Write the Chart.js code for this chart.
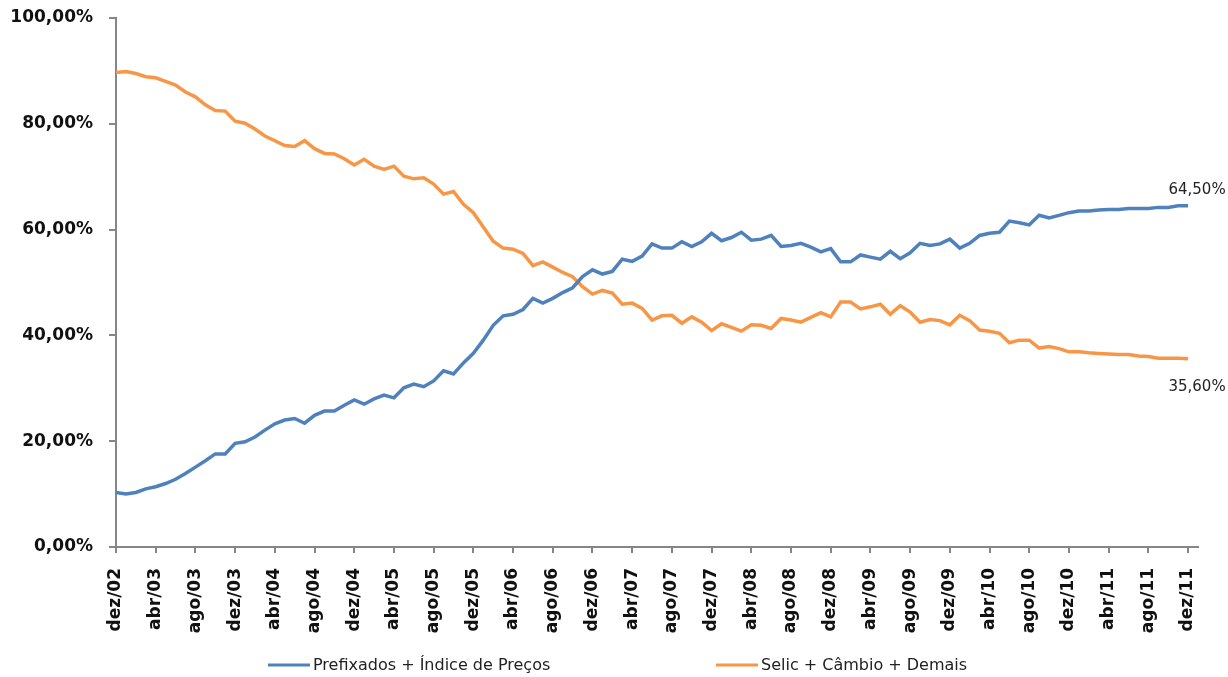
<!DOCTYPE html>
<html>
<head>
<meta charset="utf-8">
<script src="https://cdn.jsdelivr.net/npm/chart.js@4.4.1/dist/chart.umd.min.js"></script>
<style>
html,body{margin:0;padding:0;background:#fff;}
#wrap{width:1228px;height:677px;position:relative;}
</style>
</head>
<body>
<div id="wrap"><canvas id="c"></canvas></div>
<script>
const tickLabels = ["dez/02","abr/03","ago/03","dez/03","abr/04","ago/04","dez/04","abr/05","ago/05","dez/05","abr/06","ago/06","dez/06","abr/07","ago/07","dez/07","abr/08","ago/08","dez/08","abr/09","ago/09","dez/09","abr/10","ago/10","dez/10","abr/11","ago/11","dez/11"];

const seriesNames = ["Prefixados + Índice de Preços", "Selic + Câmbio + Demais"];

const prefixados = [10.3,10.0,10.3,11.0,11.4,12.0,12.8,13.9,15.1,16.3,17.6,17.6,19.6,19.9,20.8,22.1,23.3,24.0,24.3,23.4,24.9,25.7,25.7,26.8,27.8,27.0,28.0,28.7,28.2,30.1,30.8,30.3,31.4,33.3,32.7,34.8,36.6,39.1,41.9,43.7,44.0,
44.9,47.0,46.1,47.0,48.1,49.0,51.1,52.4,51.6,52.1,54.4,54.0,55.0,57.3,56.5,56.5,57.7,56.8,57.7,59.3,57.9,58.5,59.5,58.0,58.2,58.9,56.8,57.0,57.4,56.7,55.8,56.4,
53.9,53.9,55.2,54.8,54.4,55.9,54.5,55.6,57.4,57.0,57.3,58.2,56.5,57.4,58.9,59.3,59.5,61.6,61.3,60.9,62.7,62.2,62.7,63.2,63.5,63.5,63.7,63.8,63.8,64.0,64.0,64.0,64.2,64.2,64.5,64.5];

const selic = [89.7,89.9,89.5,88.9,88.7,88.0,87.3,86.0,85.1,83.6,82.5,82.4,80.5,80.1,79.0,77.7,76.8,75.9,75.7,76.8,75.3,74.4,74.3,73.4,72.2,73.3,72.0,71.4,72.0,70.1,69.6,69.8,68.6,66.7,67.2,64.8,63.2,60.5,57.8,56.5,56.3,
55.5,53.2,53.9,52.9,51.9,51.1,49.2,47.8,48.5,48.0,45.9,46.1,45.1,42.9,43.7,43.8,42.3,43.5,42.5,40.9,42.2,41.5,40.8,42.0,41.9,41.3,43.2,42.9,42.5,43.4,44.3,43.5,
46.3,46.3,45.0,45.4,45.9,44.0,45.6,44.4,42.5,43.0,42.8,42.0,43.8,42.8,41.0,40.8,40.4,38.6,39.1,39.1,37.6,37.9,37.5,36.9,36.9,36.7,36.6,36.5,36.4,36.4,36.1,36.0,35.7,35.7,35.7,35.6];

const endLabels = ["64,50%", "35,60%"];
const yTicks = [0,20,40,60,80,100];

const toXY = arr => arr.map((v,i)=>({x:i,y:v}));
const AXIS = '#868686';
const BLUE = '#4F81BD';
const ORANGE = '#F79646';

const endLabelPlugin = {
  id:'endLabels',
  afterDatasetsDraw(chart){
    const ctx = chart.ctx;
    ctx.save();
    ctx.font = '15px "DejaVu Sans"';
    ctx.fillStyle = '#222';
    ctx.textAlign = 'center';
    ctx.textBaseline = 'middle';
    chart.data.datasets.forEach((ds,di)=>{
      const meta = chart.getDatasetMeta(di);
      const pt = meta.data[meta.data.length-1];
      const dy = di===0 ? -16 : 28;
      ctx.fillText(endLabels[di], pt.x+9, pt.y+dy);
    });
    ctx.restore();
  }
};

const legendPlugin = {
  id:'customLegend',
  afterDraw(chart){
    const ctx = chart.ctx;
    ctx.save();
    ctx.font = '16px "DejaVu Sans"';
    ctx.textBaseline = 'middle';
    const y = chart.height - 12;
    const lineW = 42, gap = 3;
    const starts = [268, 716];
    chart.data.datasets.forEach((d,i)=>{
      const x = starts[i];
      ctx.strokeStyle = d.borderColor;
      ctx.lineWidth = 3;
      ctx.beginPath();
      ctx.moveTo(x, y);
      ctx.lineTo(x+lineW, y);
      ctx.stroke();
      ctx.fillStyle = '#222';
      ctx.fillText(d.label, x+lineW+gap, y+1);
    });
    ctx.restore();
  }
};

new Chart(document.getElementById('c'), {
  type:'line',
  data:{
    datasets:[
      {label:seriesNames[0], data:toXY(prefixados), borderColor:BLUE, backgroundColor:BLUE, borderWidth:3.5, pointRadius:0, tension:0, fill:false},
      {label:seriesNames[1], data:toXY(selic), borderColor:ORANGE, backgroundColor:ORANGE, borderWidth:3.5, pointRadius:0, tension:0, fill:false}
    ]
  },
  options:{
    responsive:true,
    maintainAspectRatio:false,
    animation:false,
    layout:{padding:{top:18,right:30,bottom:30,left:0}},
    plugins:{legend:{display:false}, tooltip:{enabled:false}},
    scales:{
      x:{
        type:'linear',
        min:0, max:109,
        afterFit(s){ s.height = 100; s.paddingLeft = 0; s.paddingRight = 0; },
        afterBuildTicks(s){
          s.ticks = tickLabels.map((t,i)=>({value:i*4}));
        },
        ticks:{
          autoSkip:false,
          maxRotation:90, minRotation:90,
          padding:15,
          color:'#111',
          font:{family:'"DejaVu Sans"', size:17, weight:'bold'},
          callback:(v)=> tickLabels[Math.round(v/4)]
        },
        grid:{display:true, drawOnChartArea:false, drawTicks:true, tickLength:6, color:AXIS, lineWidth:2},
        border:{display:true, color:AXIS, width:2}
      },
      y:{
        min:0, max:100,
        afterFit(s){ s.width = 116; s.paddingTop = 0; s.paddingBottom = 0; },
        afterBuildTicks(s){ s.ticks = yTicks.map(v=>({value:v})); },
        ticks:{
          padding:16,
          color:'#111',
          font:{family:'"DejaVu Sans"', size:17, weight:'bold'},
          callback:(v)=> v.toFixed(2).replace('.',',')+'%'
        },
        grid:{display:true, drawOnChartArea:false, drawTicks:true, tickLength:7, color:AXIS, lineWidth:2},
        border:{display:true, color:AXIS, width:2}
      }
    }
  },
  plugins:[endLabelPlugin, legendPlugin]
});
</script>
</body>
</html>
